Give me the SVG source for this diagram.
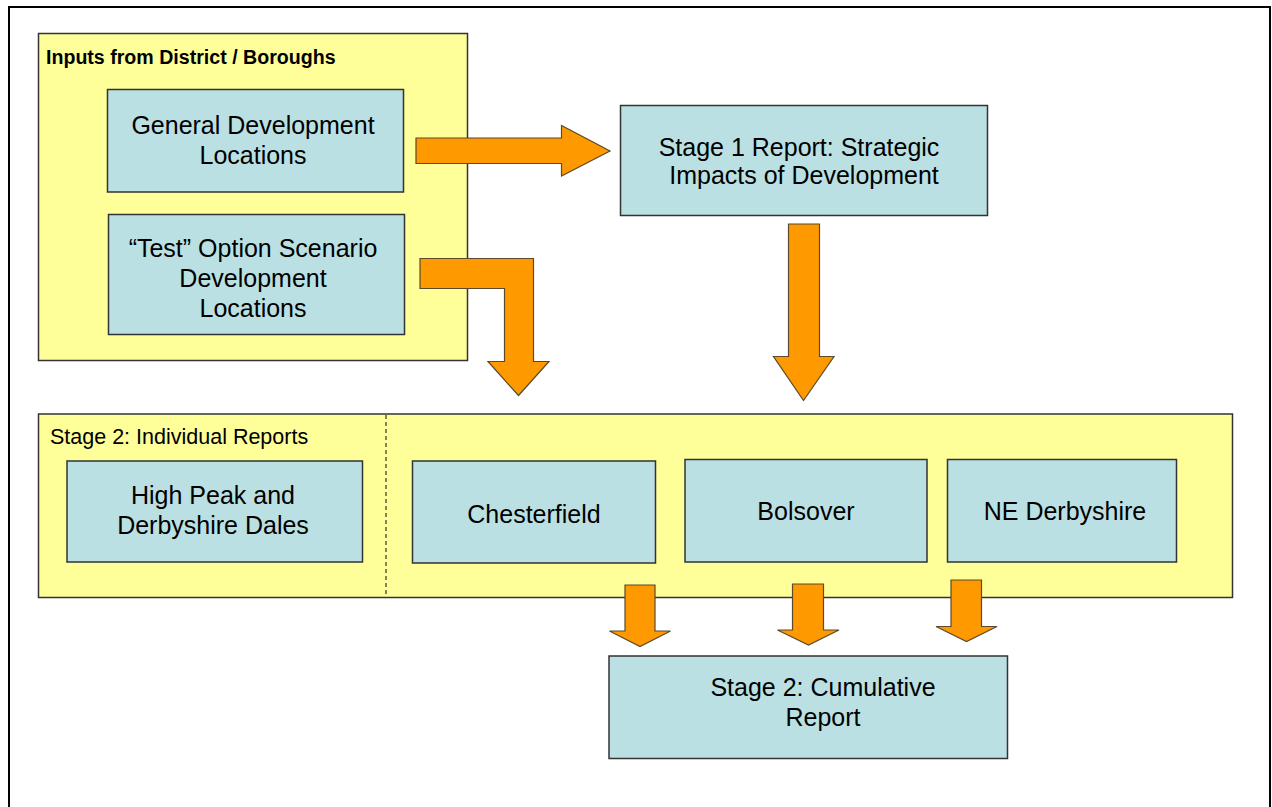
<svg xmlns="http://www.w3.org/2000/svg" width="1272" height="807" viewBox="0 0 1272 807">
<style>
.frame{fill:#ffffff;stroke:#000000;stroke-width:2}
.group{fill:#FFFF99;stroke:#333333;stroke-width:1.5}
.box{fill:#BBE0E3;stroke:#333333;stroke-width:1.5}
.arrow{fill:#FF9900;stroke:#5C4A2A;stroke-width:1.2;stroke-linejoin:miter}
.sep{stroke:#333333;stroke-width:1.2;stroke-dasharray:4 3;fill:none}
text{font-family:"Liberation Sans",Arial,sans-serif;fill:#000000}
.lbl{font-size:25px;text-anchor:middle}
.ttl{font-size:21.5px}
.ttlb{font-size:19.6px;font-weight:bold}
</style>
<rect class="frame" x="9" y="7" width="1261" height="820"/>

<g id="inputs-group">
  <rect class="group" x="38.5" y="33.5" width="429" height="327"/>
  <text class="ttlb" x="46" y="64">Inputs from District / Boroughs</text>
</g>
<g id="general-dev">
  <rect class="box" x="107.5" y="89.5" width="296" height="102.5"/>
  <text class="lbl" x="253" y="134">General Development</text>
  <text class="lbl" x="253" y="164">Locations</text>
</g>
<g id="test-option">
  <rect class="box" x="108.5" y="214.5" width="296" height="120"/>
  <text class="lbl" x="253" y="257">“Test” Option Scenario</text>
  <text class="lbl" x="253" y="287">Development</text>
  <text class="lbl" x="253" y="317">Locations</text>
</g>
<g id="stage1">
  <rect class="box" x="620.5" y="105.5" width="367" height="110"/>
  <text class="lbl" x="799" y="156">Stage 1 Report: Strategic</text>
  <text class="lbl" x="804" y="184">Impacts of Development</text>
</g>

<g id="stage2-group">
  <rect class="group" x="38.5" y="414" width="1194" height="183.5"/>
  <line class="sep" x1="386" y1="415" x2="386" y2="597"/>
  <text class="ttl" x="50" y="443.5">Stage 2: Individual Reports</text>
</g>
<g id="high-peak">
  <rect class="box" x="67" y="461" width="295.5" height="101"/>
  <text class="lbl" x="213" y="503.5">High Peak and</text>
  <text class="lbl" x="213" y="533.5">Derbyshire Dales</text>
</g>
<g id="chesterfield">
  <rect class="box" x="412.5" y="461" width="243" height="102"/>
  <text class="lbl" x="534" y="523">Chesterfield</text>
</g>
<g id="bolsover">
  <rect class="box" x="685" y="459.5" width="242" height="102.5"/>
  <text class="lbl" x="806" y="520">Bolsover</text>
</g>
<g id="ne-derbyshire">
  <rect class="box" x="947.5" y="459.5" width="229" height="102.5"/>
  <text class="lbl" x="1065" y="519.5">NE Derbyshire</text>
</g>
<g id="cumulative">
  <rect class="box" x="609" y="656" width="398.5" height="102.5"/>
  <text class="lbl" x="823" y="696">Stage 2: Cumulative</text>
  <text class="lbl" x="823" y="725.5">Report</text>
</g>

<g id="connectors">
  <polygon class="arrow" points="416,138 561.5,138 561.5,125.5 610,151 561.5,176 561.5,163.5 416,163.5"/>
  <polygon class="arrow" points="420,258.5 533.5,258.5 533.5,361.5 549,361.5 518.5,395.5 488,361.5 504.5,361.5 504.5,288.5 420,288.5"/>
  <polygon class="arrow" points="788.5,224 819.5,224 819.5,356.5 834,356.5 803.5,400.5 773.5,356.5 788.5,356.5"/>
  <polygon class="arrow" points="625,585 655,585 655,631 670.5,631 640,646.5 609.5,631 625,631"/>
  <polygon class="arrow" points="792.5,584 823.5,584 823.5,630 839,630 808.5,645 777.5,630 792.5,630"/>
  <polygon class="arrow" points="951,580 981.5,580 981.5,626.5 997,626.5 966.5,641.5 936,626.5 951,626.5"/>
</g>
</svg>
